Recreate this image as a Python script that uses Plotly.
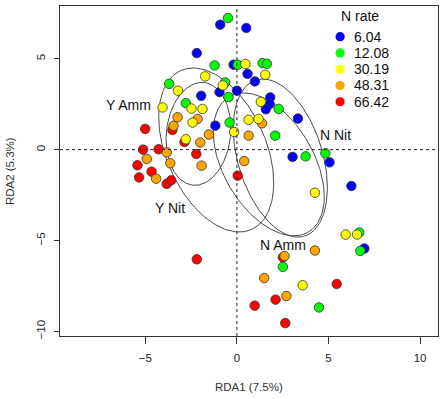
import numpy as np
import plotly.graph_objects as go

# ---------------- data ----------------
rates = ["6.04", "12.08", "30.19", "48.31", "66.42"]
rate_colors = ["#0000ff", "#00ff00", "#ffff00", "#ffa500", "#ff0000"]

x_604 = [-0.91, 0.51, -2.19, -0.18, 0.58, 0.98, 0.00, -0.95, -1.95, 1.82, 1.79, 1.58, 3.33, -1.18, 3.04, 5.06, 6.25, 6.96]
y_604 = [6.87, 6.69, 5.31, 4.67, 4.17, 3.75, 3.24, 3.16, 2.96, 2.87, 2.50, 2.22, 1.71, 1.32, -0.40, -0.70, -2.00, -5.44]

x_1208 = [-0.49, -1.22, 0.04, 1.40, 1.64, -3.70, -0.64, -0.46, -2.79, 2.28, -0.40, 2.09, 3.75, 4.83, 6.68, 6.74, 2.51, 4.48]
y_1208 = [7.24, 4.63, 4.67, 4.76, 4.72, 3.62, 3.69, 2.89, 2.56, 2.24, 1.49, 0.77, -0.37, -0.20, -4.56, -5.57, -6.45, -8.68]

x_3019 = [0.46, 1.55, -1.73, -0.77, -3.22, -4.06, -2.48, -1.88, 1.31, -2.42, 0.64, 1.18, -0.15, -2.79, 4.26, 5.94, 6.56, 3.59]
y_3019 = [4.71, 4.12, 4.03, 3.53, 3.24, 2.32, 2.26, 2.24, 2.63, 1.49, 1.64, 1.69, 0.97, 0.57, -2.37, -4.67, -4.67, -7.46]

x_4831 = [-3.24, -2.15, -3.46, 1.37, -1.53, 0.64, -2.00, -3.83, -4.92, -3.64, -1.93, 0.40, -4.41, 4.26, 2.60, 1.49, 2.70]
y_4831 = [1.78, 1.69, 1.31, 1.45, 0.83, 0.77, 0.39, -0.15, -0.51, -0.75, -0.88, -0.63, -1.60, -5.55, -5.85, -7.06, -8.05]

x_6642 = [-5.01, -3.52, -2.86, -5.12, -4.28, -2.22, -5.43, -4.66, -5.34, -3.83, -3.59, 0.04, -2.19, 2.51, 5.45, 0.97, 2.11, 2.64]
y_6642 = [1.14, 1.08, 0.42, 0.00, 0.02, -0.24, -0.86, -1.21, -1.53, -1.88, -1.69, -1.43, -6.03, -5.92, -7.39, -8.58, -8.25, -9.54]

series_x = [x_604, x_1208, x_3019, x_4831, x_6642]
series_y = [y_604, y_1208, y_3019, y_4831, y_6642]

# group ellipses: centre and covariance (sxx, syy, sxy), label position
groups = ["Y Amm", "Y Nit", "N Amm", "N Nit"]
ell_cx = [-2.10, -1.13, 1.74, 2.37]
ell_cy = [0.87, -0.02, -0.81, -0.46]
ell_sxx = [1.77 ** 2, 3.14 ** 2, 3.03 ** 2, 2.57 ** 2]
ell_syy = [2.83 ** 2, 4.51 ** 2, 3.93 ** 2, 4.35 ** 2]
ell_sxy = [0.54, -5.68, -5.38, -4.17]
label_x = [-5.94, -3.64, 2.54, 5.37]
label_y = [2.46, -3.21, -5.25, 0.81]

x_ticks = [-5, 0, 5, 10]
y_ticks = [-10, -5, 0, 5]
x_title = "RDA1 (7.5%)"
y_title = "RDA2 (5.3%)"
legend_title = "N rate"

# ---------------- figure ----------------
FONT = "Arial, Liberation Sans, sans-serif"
fig = go.Figure()

t = np.linspace(0, 2 * np.pi, 200)
for cx, cy, sxx, syy, sxy in zip(ell_cx, ell_cy, ell_sxx, ell_syy, ell_sxy):
    L = np.linalg.cholesky(np.array([[sxx, sxy], [sxy, syy]]))
    pts = L @ np.vstack([np.cos(t), np.sin(t)])
    fig.add_trace(go.Scatter(x=cx + pts[0], y=cy + pts[1], mode="lines",
                             line=dict(color="#4a4a4a", width=1),
                             showlegend=False, hoverinfo="skip"))

order = [0, 1, 4, 3, 2]
for i in order:
    fig.add_trace(go.Scatter(x=series_x[i], y=series_y[i], mode="markers",
                             name=rates[i], showlegend=False,
                             marker=dict(size=9.5, color=rate_colors[i],
                                         line=dict(color="#333333", width=0.8))))

# reference dotted lines through origin
fig.add_shape(type="line", xref="x", yref="paper", x0=0, x1=0, y0=0, y1=1,
              line=dict(color="#222", width=1, dash="dot"))
fig.add_shape(type="line", xref="paper", yref="y", x0=0, x1=1, y0=0, y1=0,
              line=dict(color="#222", width=1, dash="dot"))

for g, lx, ly in zip(groups, label_x, label_y):
    fig.add_annotation(x=lx, y=ly, text=g, showarrow=False,
                       font=dict(family=FONT, size=14, color="#111"))

# manual legend (paper coordinates)
leg_x = 0.741
leg_y0 = 0.907
leg_dy = 0.0493
for k, (r, c) in enumerate(zip(rates, rate_colors)):
    yy = leg_y0 - k * leg_dy
    fig.add_shape(type="circle", xref="paper", yref="paper",
                  xsizemode="pixel", ysizemode="pixel",
                  xanchor=leg_x, yanchor=yy, x0=-4.6, x1=4.6, y0=-4.6, y1=4.6,
                  fillcolor=c, line=dict(width=0))
    fig.add_annotation(xref="paper", yref="paper", x=0.772, y=yy, text=r,
                       showarrow=False, xanchor="left", yanchor="middle",
                       font=dict(family=FONT, size=14, color="#111"))
fig.add_annotation(xref="paper", yref="paper", x=0.794, y=0.970, text=legend_title,
                   showarrow=False, xanchor="center", yanchor="middle",
                   font=dict(family=FONT, size=14, color="#111"))

# axis titles
fig.add_annotation(xref="paper", yref="paper", x=0.5, y=-0.1536, text=x_title,
                   showarrow=False, xanchor="center", yanchor="middle",
                   font=dict(family=FONT, size=11.5, color="#333"))
fig.add_annotation(xref="paper", yref="paper", x=-0.132, y=0.5, text=y_title,
                   showarrow=False, xanchor="center", yanchor="middle", textangle=-90,
                   font=dict(family=FONT, size=11.5, color="#333"))

axis_common = dict(showgrid=False, zeroline=False, showline=True, mirror=True,
                   automargin=False,
                   linecolor="#333", linewidth=1, ticks="outside", tickcolor="#333",
                   tickfont=dict(family=FONT, size=11.5, color="#222"))
fig.update_xaxes(range=[-9.66, 10.98], tickvals=x_ticks, ticklen=7,
                 ticklabelstandoff=4, **axis_common)
fig.update_yaxes(range=[-10.25, 7.90], tickvals=y_ticks, ticklen=5,
                 tickangle=-90, ticklabelstandoff=4, **axis_common)

fig.update_layout(width=447, height=399, margin=dict(l=60, r=9, t=6, b=63),
                  plot_bgcolor="white", paper_bgcolor="white", showlegend=False,
                  hovermode=False)

fig.write_html("out.html", config={"displayModeBar": False, "staticPlot": True},
               post_script="document.body.style.margin='0';document.body.style.overflow='hidden';")
